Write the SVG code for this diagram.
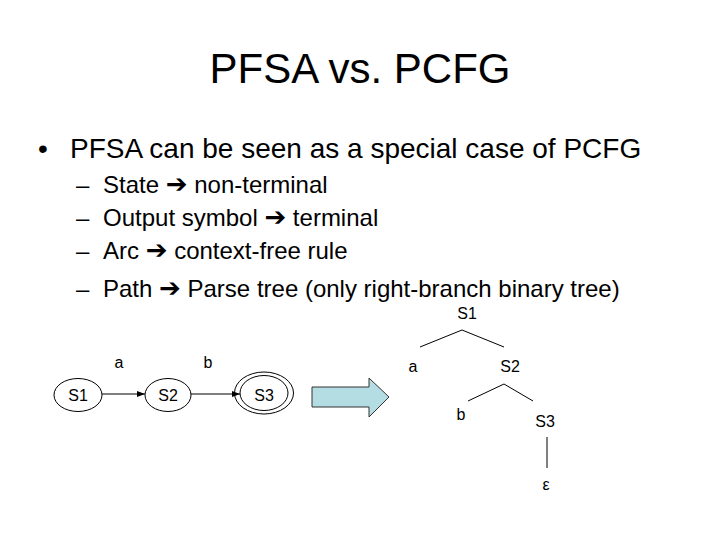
<svg xmlns="http://www.w3.org/2000/svg" width="720" height="540" viewBox="0 0 720 540">
<style>
text{font-family:"Liberation Sans",Arial,sans-serif;fill:#000}
.t{font-size:42px}
.b1{font-size:28px}
.b2{font-size:24px}
.ar{font-family:"DejaVu Sans",sans-serif;font-size:26px;font-weight:bold}
.lbl{font-size:16px}
.st{fill:none;stroke:#000;stroke-width:1}
.ln{stroke:#000;stroke-width:1;fill:none}
</style>
<defs>
<marker id="ah" markerWidth="8" markerHeight="8" refX="8" refY="4" orient="auto" markerUnits="userSpaceOnUse">
<path d="M0,1 L8,4 L0,7 Z" fill="#000"/>
</marker>
</defs>
<rect width="720" height="540" fill="#fff"/>
<text class="t" x="360" y="83" text-anchor="middle">PFSA vs. PCFG</text>
<text class="b1" x="38" y="158">•</text>
<text class="b1" x="70" y="158">PFSA can be seen as a special case of PCFG</text>
<text class="b2" x="76" y="193">–</text>
<text class="b2" x="103" y="193">State <tspan class="ar">➔</tspan> non-terminal</text>
<text class="b2" x="76" y="226">–</text>
<text class="b2" x="103" y="226">Output symbol <tspan class="ar">➔</tspan> terminal</text>
<text class="b2" x="76" y="259">–</text>
<text class="b2" x="103" y="259">Arc <tspan class="ar">➔</tspan> context-free rule</text>
<text class="b2" x="76" y="297">–</text>
<text class="b2" x="103" y="297">Path <tspan class="ar">➔</tspan> Parse tree (only right-branch binary tree)</text>

<g id="fsa-s1"><ellipse class="st" cx="78" cy="395" rx="24" ry="16.5"/><text class="lbl" x="78" y="401" text-anchor="middle">S1</text></g>
<g id="fsa-s2"><ellipse class="st" cx="168" cy="395" rx="23" ry="16.5"/><text class="lbl" x="168" y="401" text-anchor="middle">S2</text></g>
<g id="fsa-s3"><ellipse class="st" cx="264" cy="393" rx="29.5" ry="21"/><ellipse class="st" cx="264" cy="393" rx="24" ry="17.5"/><text class="lbl" x="264" y="401" text-anchor="middle">S3</text></g>
<g id="fsa-labels"><text class="lbl" x="119" y="368" text-anchor="middle">a</text><text class="lbl" x="208" y="368" text-anchor="middle">b</text></g>
<g id="connectors">
<line class="ln" x1="102" y1="394" x2="145" y2="394" marker-end="url(#ah)"/>
<line class="ln" x1="191" y1="394" x2="240" y2="394" marker-end="url(#ah)"/>
<line class="ln" x1="462" y1="330" x2="420" y2="347"/>
<line class="ln" x1="462" y1="330" x2="504" y2="347"/>
<line class="ln" x1="504" y1="384" x2="468" y2="401"/>
<line class="ln" x1="504" y1="384" x2="533" y2="401"/>
<line class="ln" x1="547" y1="437" x2="547" y2="468"/>
</g>
<g id="big-arrow"><polygon points="312,387 369,387 369,378 389,397 369,417 369,407 312,407" fill="#b4dde3" stroke="#333" stroke-width="1"/></g>
<g id="tree-s1"><text class="lbl" x="467" y="319" text-anchor="middle">S1</text></g>
<g id="tree-a"><text class="lbl" x="413" y="372" text-anchor="middle">a</text></g>
<g id="tree-s2"><text class="lbl" x="510" y="372" text-anchor="middle">S2</text></g>
<g id="tree-b"><text class="lbl" x="461" y="420" text-anchor="middle">b</text></g>
<g id="tree-s3"><text class="lbl" x="545" y="427" text-anchor="middle">S3</text></g>
<g id="tree-eps"><text class="lbl" x="546" y="490" text-anchor="middle">ε</text></g>
</svg>
